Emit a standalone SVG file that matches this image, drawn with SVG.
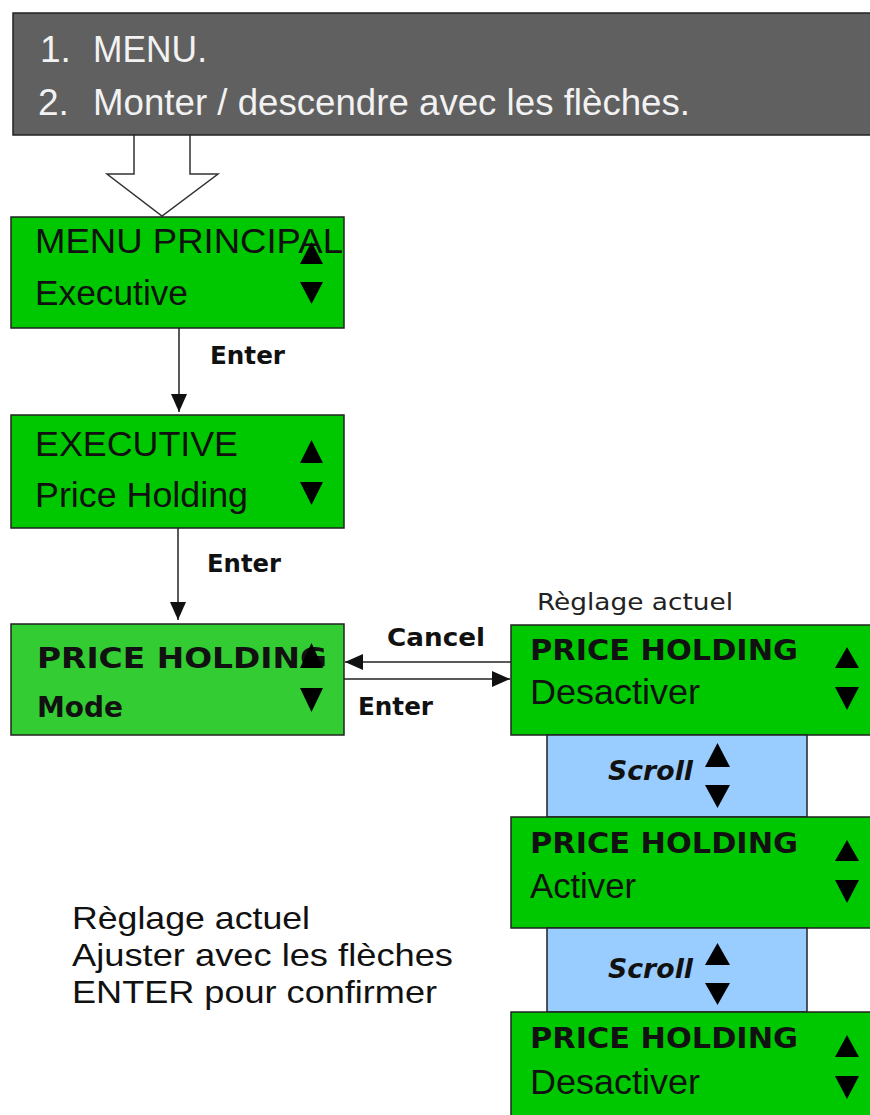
<svg xmlns="http://www.w3.org/2000/svg" width="870" height="1115" viewBox="0 0 870 1115">
<style>
.bx{stroke:#222;stroke-width:1.5}
.g{fill:#00c800}
.g2{fill:#33cc33}
.sc{fill:#99ccff}
.reg{font-family:"Liberation Sans",Arial,sans-serif;font-size:35px;fill:#111}
.bold{font-family:"DejaVu Sans",Verdana,sans-serif;font-weight:bold;font-size:29px;fill:#111}
.lbl{font-family:"DejaVu Sans",Verdana,sans-serif;font-weight:bold;font-size:25px;fill:#111}
.top{font-family:"Liberation Sans",Arial,sans-serif;font-size:37px;fill:#f2f2f2}
.small{font-family:"DejaVu Sans",Verdana,sans-serif;font-size:23px;fill:#222}
.scr{font-family:"DejaVu Sans",Verdana,sans-serif;font-weight:bold;font-style:italic;font-size:27px;fill:#111}
.note{font-family:"Liberation Sans",Arial,sans-serif;font-size:32px;fill:#111}
.tri{fill:#000}
.ln{stroke:#222;stroke-width:1.5;fill:none}
</style>
<defs>
<marker id="ah" markerUnits="userSpaceOnUse" markerWidth="18" markerHeight="16" viewBox="0 0 18 16" refX="18" refY="8" orient="auto">
<path d="M0,0 L18,8 L0,16 z" fill="#111"/>
</marker>
</defs>
<rect width="870" height="1115" fill="#fff"/>

<g id="connectors">
<path id="block-arrow" d="M134,134 L134,174 L107,174 L162,216 L218,174 L190,174 L190,134" fill="#fff" stroke="#333" stroke-width="1.5"/>
<line class="ln" x1="179" y1="328" x2="179" y2="412" marker-end="url(#ah)"/>
<line class="ln" x1="178" y1="528" x2="178" y2="620" marker-end="url(#ah)"/>
<line class="ln" x1="511" y1="662" x2="345" y2="662" marker-end="url(#ah)"/>
<line class="ln" x1="344" y1="679" x2="510" y2="679" marker-end="url(#ah)"/>
<text class="lbl" x="210" y="364" textLength="75" lengthAdjust="spacingAndGlyphs">Enter</text>
<text class="lbl" x="207" y="572" textLength="74" lengthAdjust="spacingAndGlyphs">Enter</text>
<text class="lbl" x="387" y="646" textLength="98" lengthAdjust="spacingAndGlyphs">Cancel</text>
<text class="lbl" x="358" y="715" textLength="75" lengthAdjust="spacingAndGlyphs">Enter</text>
</g>

<g id="instructions">
<rect class="bx" x="13" y="13" width="870" height="122" fill="#606060" stroke="#333"/>
<text class="top" x="40" y="62">1.</text>
<text class="top" x="93" y="62" textLength="114" lengthAdjust="spacingAndGlyphs">MENU.</text>
<text class="top" x="38" y="115">2.</text>
<text class="top" x="93" y="115" textLength="597" lengthAdjust="spacingAndGlyphs">Monter / descendre avec les flèches.</text>
</g>

<g id="menu-principal">
<rect class="bx g" x="11" y="217" width="333" height="111"/>
<text class="reg" x="35" y="253" textLength="308" lengthAdjust="spacingAndGlyphs">MENU PRINCIPAL</text>
<text class="reg" x="35" y="305" textLength="153" lengthAdjust="spacingAndGlyphs">Executive</text>
<polygon class="tri" points="300,264 311.5,242 323,264"/>
<polygon class="tri" points="300,282 323,282 311.5,304"/>
</g>

<g id="executive">
<rect class="bx g" x="11" y="415" width="333" height="113"/>
<text class="reg" x="35" y="456" textLength="203" lengthAdjust="spacingAndGlyphs">EXECUTIVE</text>
<text class="reg" x="35" y="507" textLength="213" lengthAdjust="spacingAndGlyphs">Price Holding</text>
<polygon class="tri" points="300,463 311.5,440 323,463"/>
<polygon class="tri" points="300,482 323,482 311.5,505"/>
</g>

<g id="price-holding-mode">
<rect class="bx g2" x="11" y="624" width="333" height="111"/>
<text class="bold" x="37" y="668" font-size="31" textLength="290" lengthAdjust="spacingAndGlyphs">PRICE HOLDING</text>
<text class="bold" x="37" y="717" font-size="31" textLength="86" lengthAdjust="spacingAndGlyphs">Mode</text>
<polygon class="tri" points="300,668 311.5,643 323,668"/>
<polygon class="tri" points="300,688 323,688 311.5,712"/>
</g>

<g id="reglage-label">
<text class="small" x="537" y="610" textLength="196" lengthAdjust="spacingAndGlyphs">Règlage actuel</text>
</g>

<g id="ph-desactiver-1">
<rect class="bx g" x="511" y="625" width="380" height="110"/>
<text class="bold" x="530" y="660" textLength="268" lengthAdjust="spacingAndGlyphs">PRICE HOLDING</text>
<text class="reg" x="530" y="704" textLength="170" lengthAdjust="spacingAndGlyphs">Desactiver</text>
<polygon class="tri" points="835,668 847,647 859,668"/>
<polygon class="tri" points="835,687 859,687 847,710"/>
</g>

<g id="scroll-1">
<rect class="bx sc" x="547" y="735" width="260" height="82"/>
<text class="scr" x="608" y="780" textLength="85" lengthAdjust="spacingAndGlyphs">Scroll</text>
<polygon class="tri" points="705,767 717.5,743 730,767"/>
<polygon class="tri" points="705,785 730,785 717.5,808"/>
</g>

<g id="ph-activer">
<rect class="bx g" x="511" y="817" width="380" height="111"/>
<text class="bold" x="530" y="853" textLength="268" lengthAdjust="spacingAndGlyphs">PRICE HOLDING</text>
<text class="reg" x="530" y="898" textLength="106" lengthAdjust="spacingAndGlyphs">Activer</text>
<polygon class="tri" points="835,861 847,840 859,861"/>
<polygon class="tri" points="835,880 859,880 847,903"/>
</g>

<g id="scroll-2">
<rect class="bx sc" x="547" y="928" width="260" height="84"/>
<text class="scr" x="608" y="978" textLength="85" lengthAdjust="spacingAndGlyphs">Scroll</text>
<polygon class="tri" points="705,965 717.5,943 730,965"/>
<polygon class="tri" points="705,983 730,983 717.5,1005"/>
</g>

<g id="ph-desactiver-2">
<rect class="bx g" x="511" y="1012" width="380" height="120"/>
<text class="bold" x="530" y="1048" textLength="268" lengthAdjust="spacingAndGlyphs">PRICE HOLDING</text>
<text class="reg" x="530" y="1094" textLength="170" lengthAdjust="spacingAndGlyphs">Desactiver</text>
<polygon class="tri" points="835,1057 847,1035 859,1057"/>
<polygon class="tri" points="835,1076 859,1076 847,1099"/>
</g>

<g id="note">
<text class="note" x="72" y="929" textLength="238" lengthAdjust="spacingAndGlyphs">Règlage actuel</text>
<text class="note" x="72" y="966" textLength="381" lengthAdjust="spacingAndGlyphs">Ajuster avec les flèches</text>
<text class="note" x="72" y="1003" textLength="365" lengthAdjust="spacingAndGlyphs">ENTER pour confirmer</text>
</g>
</svg>
